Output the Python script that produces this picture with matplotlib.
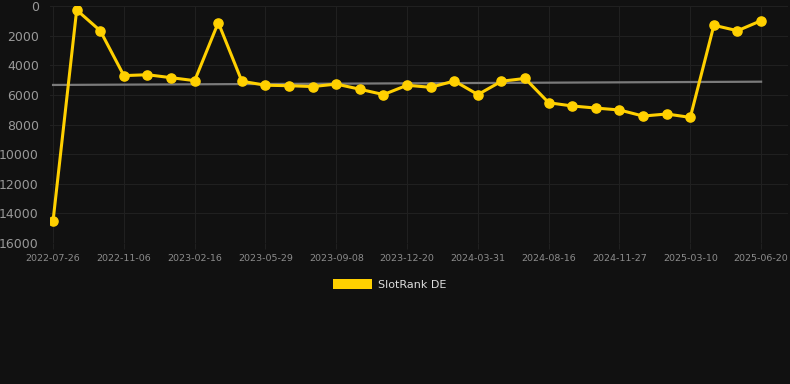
import numpy as np
import matplotlib
matplotlib.use("Agg")
import matplotlib.pyplot as plt
from matplotlib.patches import Rectangle

# =========================
# DATA
# =========================
tick_labels = ["2022-07-26", "2022-11-06", "2023-02-16", "2023-05-29", "2023-09-08",
               "2023-12-20", "2024-03-31", "2024-08-16", "2024-11-27", "2025-03-10",
               "2025-06-20"]

rank_de = [14500, 270, 1670, 4700, 4640, 4840, 5040, 1120, 5080, 5350,
           5380, 5440, 5270, 5620, 5980, 5350, 5490, 5060, 5980, 5080,
           4890, 6530, 6750, 6890, 7020, 7430, 7290, 7520, 1300, 1670,
           990]

trend_start = 5330
trend_end = 5110

series_name = "SlotRank DE"

# =========================
# STYLE
# =========================
bg = "#111111"
grid_col = "#202020"
yellow = "#FFD000"

fig = plt.figure(figsize=(7.9, 3.84), dpi=100, facecolor=bg)
ax = fig.add_axes([50 / 790, 1 - 243 / 384, 738 / 790, 237 / 384])
ax.set_facecolor(bg)

x = np.arange(len(rank_de))

# trend line
ax.plot([x[0], x[-1]], [trend_start, trend_end], color="#7a7a7a", lw=1.6, zorder=2)

ax.plot(x, rank_de, color=yellow, lw=2.2, marker="o", markersize=6.6,
        markerfacecolor=yellow, markeredgecolor=yellow, zorder=3)

ax.set_ylim(16000, 0)
ax.set_yticks(np.arange(0, 16001, 2000))
ax.set_xlim(-0.13, 31.14)
tick_pos = x[::3]
ax.set_xticks(tick_pos)
ax.set_xticklabels(tick_labels)

ax.grid(True, color=grid_col, lw=0.8)
ax.set_axisbelow(True)
for s in ax.spines.values():
    s.set_visible(False)

ax.tick_params(axis="y", colors="#999999", labelsize=9, length=0, pad=8)
ax.tick_params(axis="x", colors=grid_col, labelcolor="#8c8c8c", labelsize=6.8,
               length=4, pad=4)

# legend
fig.patches.append(Rectangle((333 / 790, 1 - 289 / 384), 39 / 790, 10 / 384,
                             transform=fig.transFigure, facecolor=yellow,
                             edgecolor="none"))
fig.text(378 / 790, 1 - 284.5 / 384, series_name, color="#dddddd", fontsize=8,
         va="center", ha="left")

fig.savefig("out.png", dpi=100, facecolor=bg)
